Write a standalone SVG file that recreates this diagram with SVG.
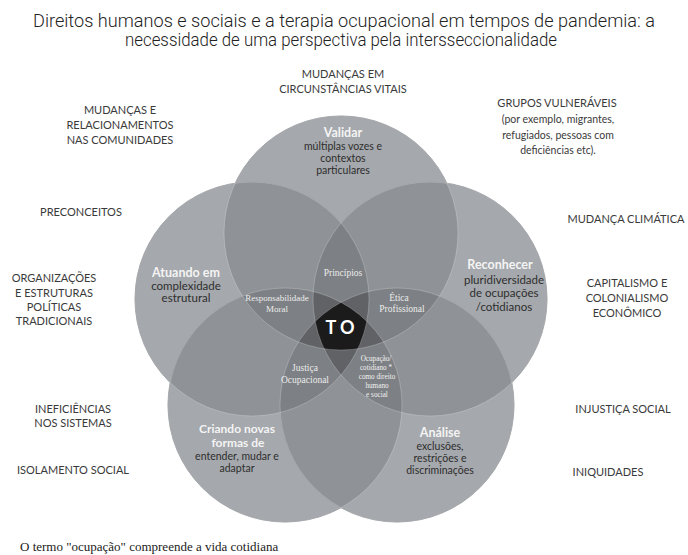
<svg xmlns="http://www.w3.org/2000/svg" width="688" height="555" viewBox="0 0 688 555">
<style>
.title{font-family:Roboto,"Liberation Sans Narrow","Open Sans",sans-serif;font-weight:300;font-size:17.5px;fill:#222;text-anchor:middle}
.out{font-family:Lato,"Open Sans",sans-serif;font-size:11px;fill:#3a3a3a;text-anchor:middle}
.hd{font-family:Lato,"Open Sans",sans-serif;font-weight:bold;font-size:12.5px;fill:#f4f4f4;text-anchor:middle}
.bd{font-family:Lato,"Open Sans",sans-serif;font-size:10.5px;fill:#2e2e2e;text-anchor:middle}
.in{font-family:"Liberation Serif",serif;font-size:9.5px;fill:#ececec;text-anchor:middle}
.sm{font-family:"Liberation Serif",serif;font-size:7.2px;fill:#f2f2f2;text-anchor:middle}
.l1{fill:#a5a8ac;stroke:#8e9195;stroke-width:1}
.l2{fill:#8f9296}
.l3{fill:#7d8084}
.l4{fill:#606266}
.l5{fill:#1b1b1b}
.edge{fill:none;stroke:#ffffff;stroke-opacity:0.22;stroke-width:1}
</style>
<defs>
<clipPath id="cA"><circle cx="341" cy="233" r="117"/></clipPath>
<clipPath id="cB"><circle cx="252" cy="299" r="117"/></clipPath>
<clipPath id="cC"><circle cx="430" cy="299" r="117"/></clipPath>
<clipPath id="cD"><circle cx="285" cy="405" r="117"/></clipPath>
<clipPath id="cE"><circle cx="397" cy="405" r="117"/></clipPath>
</defs>

<g id="title">
<text class="title" x="344" y="27" textLength="622" lengthAdjust="spacingAndGlyphs">Direitos humanos e sociais e a terapia ocupacional em tempos de pandemia: a</text>
<text class="title" x="341" y="46" textLength="432" lengthAdjust="spacingAndGlyphs">necessidade de uma perspectiva pela intersseccionalidade</text>
</g>

<g id="venn">
<g id="layer1">
<circle class="l1" cx="341" cy="233" r="117"/>
<circle class="l1" cx="252" cy="299" r="117"/>
<circle class="l1" cx="430" cy="299" r="117"/>
<circle class="l1" cx="285" cy="405" r="117"/>
<circle class="l1" cx="397" cy="405" r="117"/>
</g>
<g id="layer2">
<g clip-path="url(#cA)"><circle class="l2" cx="252" cy="299" r="117"/><circle class="l2" cx="430" cy="299" r="117"/><circle class="l2" cx="285" cy="405" r="117"/><circle class="l2" cx="397" cy="405" r="117"/></g>
<g clip-path="url(#cB)"><circle class="l2" cx="430" cy="299" r="117"/><circle class="l2" cx="285" cy="405" r="117"/><circle class="l2" cx="397" cy="405" r="117"/></g>
<g clip-path="url(#cC)"><circle class="l2" cx="285" cy="405" r="117"/><circle class="l2" cx="397" cy="405" r="117"/></g>
<g clip-path="url(#cD)"><circle class="l2" cx="397" cy="405" r="117"/></g>
</g>
<g id="layer3">
<g clip-path="url(#cA)"><g clip-path="url(#cB)"><circle class="l3" cx="430" cy="299" r="117"/><circle class="l3" cx="285" cy="405" r="117"/><circle class="l3" cx="397" cy="405" r="117"/></g></g>
<g clip-path="url(#cA)"><g clip-path="url(#cC)"><circle class="l3" cx="285" cy="405" r="117"/><circle class="l3" cx="397" cy="405" r="117"/></g></g>
<g clip-path="url(#cA)"><g clip-path="url(#cD)"><circle class="l3" cx="397" cy="405" r="117"/></g></g>
<g clip-path="url(#cB)"><g clip-path="url(#cC)"><circle class="l3" cx="285" cy="405" r="117"/><circle class="l3" cx="397" cy="405" r="117"/></g></g>
<g clip-path="url(#cB)"><g clip-path="url(#cD)"><circle class="l3" cx="397" cy="405" r="117"/></g></g>
<g clip-path="url(#cC)"><g clip-path="url(#cD)"><circle class="l3" cx="397" cy="405" r="117"/></g></g>
</g>
<g id="layer4">
<g clip-path="url(#cA)"><g clip-path="url(#cB)"><g clip-path="url(#cC)"><circle class="l4" cx="285" cy="405" r="117"/><circle class="l4" cx="397" cy="405" r="117"/></g></g></g>
<g clip-path="url(#cA)"><g clip-path="url(#cB)"><g clip-path="url(#cD)"><circle class="l4" cx="397" cy="405" r="117"/></g></g></g>
<g clip-path="url(#cA)"><g clip-path="url(#cC)"><g clip-path="url(#cD)"><circle class="l4" cx="397" cy="405" r="117"/></g></g></g>
<g clip-path="url(#cB)"><g clip-path="url(#cC)"><g clip-path="url(#cD)"><circle class="l4" cx="397" cy="405" r="117"/></g></g></g>
</g>
<g id="layer5">
<g clip-path="url(#cA)"><g clip-path="url(#cB)"><g clip-path="url(#cC)"><g clip-path="url(#cD)"><circle class="l5" cx="397" cy="405" r="117"/></g></g></g></g>
</g>
<g id="edges">
<circle class="edge" cx="341" cy="233" r="117"/>
<circle class="edge" cx="252" cy="299" r="117"/>
<circle class="edge" cx="430" cy="299" r="117"/>
<circle class="edge" cx="285" cy="405" r="117"/>
<circle class="edge" cx="397" cy="405" r="117"/>
</g>
</g>

<g id="connectors"></g>

<g id="node-validar">
<text class="hd" x="343" y="137">Validar</text>
<text class="bd" x="343" y="150">múltiplas vozes e</text>
<text class="bd" x="343" y="162">contextos</text>
<text class="bd" x="343" y="174">particulares</text>
</g>
<g id="node-atuando">
<text class="hd" x="186" y="277">Atuando em</text>
<text class="bd" x="186" y="290" style="font-size:11.5px">complexidade</text>
<text class="bd" x="186" y="302" style="font-size:11.5px">estrutural</text>
</g>
<g id="node-reconhecer">
<text class="hd" x="500" y="269">Reconhecer</text>
<text class="bd" x="504" y="284" style="font-size:11.5px">pluridiversidade</text>
<text class="bd" x="504" y="297" style="font-size:11.5px">de ocupações</text>
<text class="bd" x="504" y="311" style="font-size:11.5px">/cotidianos</text>
</g>
<g id="node-criando">
<text class="hd" x="237" y="433" style="font-size:12px">Criando novas</text>
<text class="hd" x="238" y="447" style="font-size:12px">formas de</text>
<text class="bd" x="237" y="460">entender, mudar e</text>
<text class="bd" x="237" y="472">adaptar</text>
</g>
<g id="node-analise">
<text class="hd" x="440" y="437">Análise</text>
<text class="bd" x="440" y="450">exclusões,</text>
<text class="bd" x="440" y="462">restrições e</text>
<text class="bd" x="440" y="474">discriminações</text>
</g>
<g id="node-principios"><text class="in" x="343" y="276">Princípios</text></g>
<g id="node-responsabilidade">
<text class="in" x="277" y="301" style="font-size:9px">Responsabilidade</text>
<text class="in" x="277" y="312" style="font-size:9px">Moral</text>
</g>
<g id="node-etica">
<text class="in" x="399" y="301">Ética</text>
<text class="in" x="402" y="312">Profissional</text>
</g>
<g id="node-justica">
<text class="in" x="305" y="371">Justiça</text>
<text class="in" x="305" y="383">Ocupacional</text>
</g>
<g id="node-ocupacao">
<text class="sm" x="376" y="361">Ocupação/</text>
<text class="sm" x="376" y="370">cotidiano *</text>
<text class="sm" x="377" y="379">como direito</text>
<text class="sm" x="377" y="388">humano</text>
<text class="sm" x="377" y="397">e social</text>
</g>
<g id="node-to">
<text x="342" y="334" style="font-family:Lato,'Open Sans',sans-serif;font-weight:bold;font-size:18px;fill:#ffffff;text-anchor:middle;letter-spacing:4px">TO</text>
</g>

<g id="outer-labels">
<text class="out" x="343" y="78">MUDANÇAS EM</text>
<text class="out" x="343" y="93">CIRCUNSTÂNCIAS VITAIS</text>
<text class="out" x="120" y="114">MUDANÇAS E</text>
<text class="out" x="120" y="129">RELACIONAMENTOS</text>
<text class="out" x="120" y="144">NAS COMUNIDADES</text>
<text class="out" x="81" y="216">PRECONCEITOS</text>
<text class="out" x="54" y="282">ORGANIZAÇÕES</text>
<text class="out" x="54" y="297">E ESTRUTURAS</text>
<text class="out" x="54" y="311">POLÍTICAS</text>
<text class="out" x="54" y="325">TRADICIONAIS</text>
<text class="out" x="73" y="413">INEFICIÊNCIAS</text>
<text class="out" x="73" y="427">NOS SISTEMAS</text>
<text class="out" x="73" y="474">ISOLAMENTO SOCIAL</text>
<text class="out" x="557" y="107">GRUPOS VULNERÁVEIS</text>
<text class="out" x="558" y="123" style="font-size:10.5px">(por exemplo, migrantes,</text>
<text class="out" x="558" y="139" style="font-size:10.5px">refugiados, pessoas com</text>
<text class="out" x="558" y="154" style="font-size:10.5px">deficiências etc).</text>
<text class="out" x="626" y="223">MUDANÇA CLIMÁTICA</text>
<text class="out" x="627" y="287">CAPITALISMO E</text>
<text class="out" x="627" y="302">COLONIALISMO</text>
<text class="out" x="627" y="317">ECONÔMICO</text>
<text class="out" x="623" y="413">INJUSTIÇA SOCIAL</text>
<text class="out" x="608" y="476">INIQUIDADES</text>
</g>

<g id="footnote">
<text x="20" y="551" style="font-family:'Liberation Serif',serif;font-size:13px;fill:#222">O termo "ocupação" compreende a vida cotidiana</text>
</g>
</svg>
